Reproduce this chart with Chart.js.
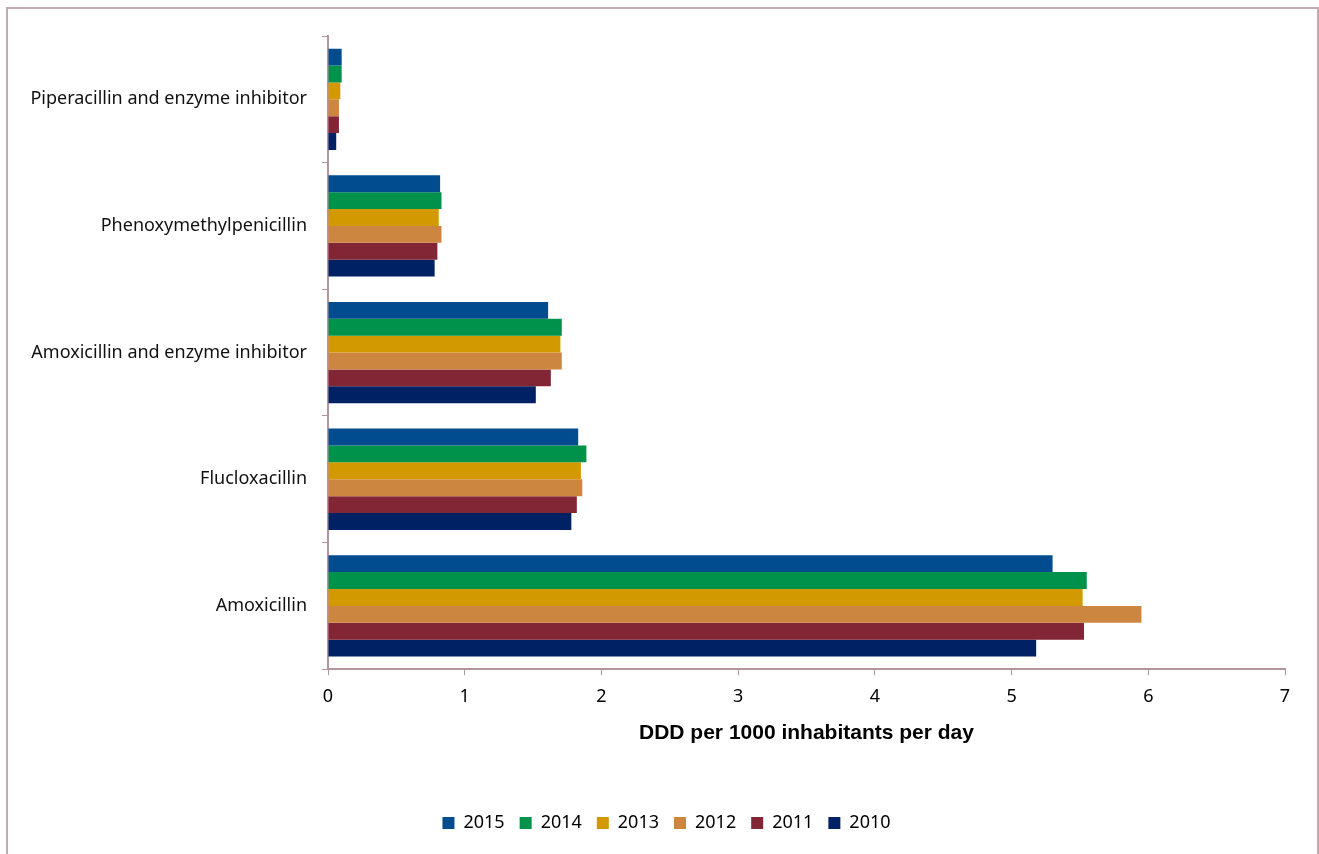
<!DOCTYPE html>
<html>
<head>
<meta charset="utf-8">
<script src="https://cdn.jsdelivr.net/npm/chart.js@4.4.0/dist/chart.umd.min.js"></script>
<style>
  body { margin: 0; background: #ffffff; }
  .frame {
    position: absolute;
    left: 6px; top: 7px;
    width: 1313px; height: 900px;
    border: 2px solid #c4a9ae;
    box-sizing: border-box;
  }
  .wrap { position: absolute; left: 0; top: 0; width: 1319px; height: 854px; }
</style>
</head>
<body>
<div class="frame"></div>
<div class="wrap"><canvas id="abChart" width="1319" height="854"></canvas></div>
<script>
// categorias (de arriba a abajo)
const drugs = [
  'Piperacillin and enzyme inhibitor',
  'Phenoxymethylpenicillin',
  'Amoxicillin and enzyme inhibitor',
  'Flucloxacillin',
  'Amoxicillin'
];

const years = ['2015', '2014', '2013', '2012', '2011', '2010'];

// DDD por 1000 habitantes por dia
const v2015 = [0.10, 0.82, 1.61, 1.83, 5.30];
const v2014 = [0.10, 0.83, 1.71, 1.89, 5.55];
const v2013 = [0.09, 0.81, 1.70, 1.85, 5.52];
const v2012 = [0.08, 0.83, 1.71, 1.86, 5.95];
const v2011 = [0.08, 0.80, 1.63, 1.82, 5.53];
const v2010 = [0.06, 0.78, 1.52, 1.78, 5.18];

const xTicks = [0, 1, 2, 3, 4, 5, 6, 7];

const seriesValues = [v2015, v2014, v2013, v2012, v2011, v2010];
const seriesColors = ['#004c8f', '#00924a', '#d29a00', '#cd8640', '#822535', '#002163'];

const axisColor = '#b3959b';
const labelFont = "'Noto Sans', sans-serif";

const datasets = years.map((y, i) => ({
  label: y,
  data: seriesValues[i],
  backgroundColor: seriesColors[i],
  borderWidth: 0,
  categoryPercentage: 0.8,
  barPercentage: 1.0
}));

// mueve la leyenda un poco a la derecha, como en el original
const legendShift = {
  id: 'legendShift',
  afterLayout(chart) {
    if (chart.legend) {
      chart.legend.left += 24;
      chart.legend.right += 24;
    }
  }
};

new Chart(document.getElementById('abChart'), {
  type: 'bar',
  data: { labels: drugs, datasets },
  plugins: [legendShift],
  options: {
    indexAxis: 'y',
    responsive: false,
    animation: false,
    layout: { padding: { top: 36, right: 34, bottom: 12, left: 0 } },
    plugins: {
      tooltip: { enabled: false },
      legend: {
        position: 'bottom',
        labels: {
          boxWidth: 12,
          boxHeight: 12,
          padding: 15,
          color: '#000',
          font: { family: labelFont, size: 18 }
        }
      }
    },
    scales: {
      x: {
        min: 0,
        max: 7,
        afterBuildTicks: (scale) => { scale.ticks = xTicks.map(v => ({ value: v })); },
        grid: {
          drawOnChartArea: false,
          drawTicks: true,
          tickLength: 6,
          color: axisColor,
          tickColor: axisColor
        },
        border: { color: axisColor, width: 2 },
        ticks: {
          color: '#000',
          padding: 11,
          maxRotation: 0,
          font: { family: labelFont, size: 18 }
        },
        title: {
          display: true,
          text: 'DDD per 1000 inhabitants per day',
          color: '#000',
          padding: { top: 2, bottom: 53 },
          font: { family: "'Liberation Sans', Arial, sans-serif", size: 21, weight: 'bold' }
        }
      },
      y: {
        afterFit: (scale) => { scale.width = 328; },
        grid: {
          drawOnChartArea: false,
          drawTicks: true,
          tickLength: 6,
          offset: true,
          color: axisColor,
          tickColor: axisColor
        },
        border: { color: axisColor, width: 2 },
        ticks: {
          color: '#111',
          padding: 15,
          font: { family: labelFont, size: 18 }
        }
      }
    }
  }
});
</script>
</body>
</html>
